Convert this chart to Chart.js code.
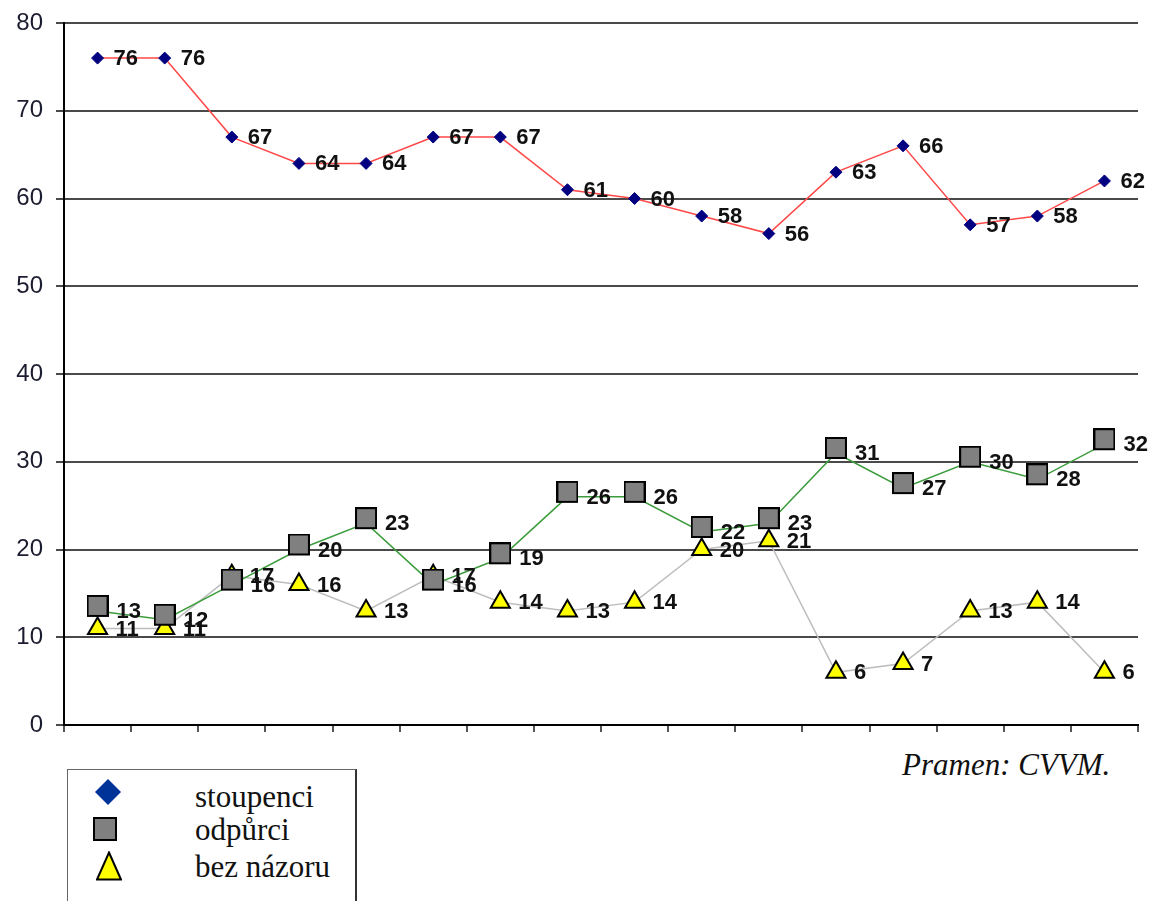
<!DOCTYPE html>
<html>
<head>
<meta charset="utf-8">
<script src="https://cdn.jsdelivr.net/npm/chart.js@4.4.1/dist/chart.umd.min.js"></script>
<style>
    body { margin: 0; width: 1151px; height: 901px; overflow: hidden; background: #fff; position: relative; }
    #chart-box { position: absolute; left: 0; top: 0; width: 1151px; height: 745px; }
    #legend { position: absolute; left: 67px; top: 769px; width: 287px; height: 140px;
              border: 1px solid #666; border-right: 2px solid #333;
              font-family: "Liberation Serif", "Times New Roman", serif; font-size: 31px; color: #111; }
    #legend svg { position: absolute; }
    #legend .txt { position: absolute; left: 127px; line-height: 31px; white-space: nowrap; }
    #source { position: absolute; left: 902px; top: 747px; line-height: 31px;
              font: italic 31px "Liberation Serif", "Times New Roman", serif; color: #111; }
</style>
</head>
<body>
<div id="chart-box"><canvas id="resultChart"></canvas></div>

<div id="legend">
    <svg style="left:27px; top:9px" width="26" height="26"><polygon points="13,0 26,13 13,26 0,13" fill="#003399"/></svg>
    <div class="txt" style="top:11px">stoupenci</div>
    <svg style="left:25px; top:47px" width="24" height="24"><rect x="1" y="1" width="22" height="22" fill="#808080" stroke="#000" stroke-width="2"/></svg>
    <div class="txt" style="top:44px">odpůrci</div>
    <svg style="left:28px; top:81px" width="26" height="30"><polygon points="13,1.5 25,28.5 1,28.5" fill="#ffff00" stroke="#000" stroke-width="2"/></svg>
    <div class="txt" style="top:81px">bez názoru</div>
</div>
<div id="source">Pramen: CVVM.</div>

<script>
const categories = ['1', '2', '3', '4', '5', '6', '7', '8', '9', '10', '11', '12', '13', '14', '15', '16'];
const stoupenci = [76, 76, 67, 64, 64, 67, 67, 61, 60, 58, 56, 63, 66, 57, 58, 62];
const odpurci = [13, 12, 16, 20, 23, 16, 19, 26, 26, 22, 23, 31, 27, 30, 28, 32];
const bezNazoru = [11, 11, 17, 16, 13, 17, 14, 13, 14, 20, 21, 6, 7, 13, 14, 6];
const yTicks = [0, 10, 20, 30, 40, 50, 60, 70, 80];

// grey square marker, drawn a little above the point like in the original
function makeSquare() {
    const c = document.createElement('canvas');
    c.width = 22;
    c.height = 32;
    const g = c.getContext('2d');
    g.fillStyle = '#808080';
    g.strokeStyle = '#000';
    g.lineWidth = 2;
    g.fillRect(1, 1, 20, 20);
    g.strokeRect(1, 1, 20, 20);
    return c;
}

// numbers written to the right of each point
const valueLabels = {
    id: 'valueLabels',
    afterDatasetsDraw(chart) {
        const ctx = chart.ctx;
        ctx.save();
        ctx.font = 'bold 22px "Liberation Sans", Arial, sans-serif';
        ctx.fillStyle = '#111';
        ctx.textBaseline = 'middle';
        ctx.textAlign = 'left';
        chart.data.datasets.forEach((ds, i) => {
            const meta = chart.getDatasetMeta(i);
            meta.data.forEach((pt, j) => {
                ctx.fillText(ds.data[j], pt.x + ds.labelDx, pt.y + 1);
            });
        });
        ctx.restore();
    }
};

const ctx = document.getElementById('resultChart').getContext('2d');
window.lineChart = new Chart(ctx, {
    type: 'line',
    data: {
        labels: categories,
        datasets: [{
            label: 'stoupenci',
            data: stoupenci,
            borderColor: '#ff4848',
            borderWidth: 1.5,
            pointStyle: 'rectRot',
            pointRadius: 6,
            pointBackgroundColor: '#000080',
            pointBorderColor: '#000080',
            pointBorderWidth: 1,
            labelDx: 16
        }, {
            label: 'odpůrci',
            data: odpurci,
            borderColor: '#3c9c3c',
            borderWidth: 1.5,
            pointStyle: makeSquare(),
            pointRadius: 10,
            labelDx: 19
        }, {
            label: 'bez názoru',
            data: bezNazoru,
            borderColor: '#bdbdbd',
            borderWidth: 1.5,
            pointStyle: 'triangle',
            pointRadius: 11,
            pointBackgroundColor: '#ffff00',
            pointBorderColor: '#000',
            pointBorderWidth: 2,
            labelDx: 18
        }]
    },
    options: {
        responsive: true,
        maintainAspectRatio: false,
        animation: false,
        layout: { padding: { top: 23, right: 5, left: 0, bottom: 0 } },
        elements: { line: { tension: 0 } },
        scales: {
            x: {
                offset: true,
                ticks: { display: false },
                grid: { offset: true, drawOnChartArea: false, drawTicks: true, tickLength: 7, color: '#555', lineWidth: 2 },
                border: { display: true, color: '#000', width: 2 },
                afterFit: function(scale) {
                    scale.height = 20;
                    scale.paddingLeft = 0;
                    scale.paddingRight = 0;
                }
            },
            y: {
                min: 0,
                max: 80,
                afterBuildTicks: function(scale) { scale.ticks = yTicks.map(v => ({ value: v })); },
                ticks: { padding: 13, color: '#1c1c30', font: { family: '"Liberation Sans", Arial, sans-serif', size: 24 } },
                grid: { color: '#4a4a4a', lineWidth: 2, tickLength: 8 },
                border: { display: true, color: '#000', width: 2 },
                afterFit: function(scale) {
                    scale.width = 64;
                    scale.paddingTop = 0;
                    scale.paddingBottom = 0;
                }
            }
        },
        plugins: {
            legend: { display: false },
            tooltip: { enabled: false }
        }
    },
    plugins: [valueLabels]
});
</script>
</body>
</html>
